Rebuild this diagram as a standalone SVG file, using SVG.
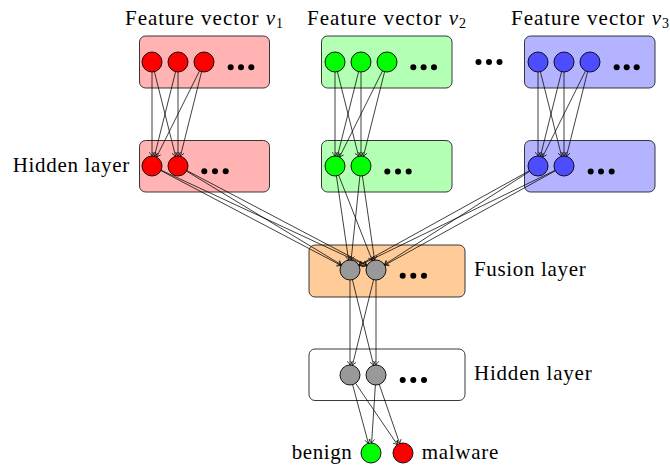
<svg xmlns="http://www.w3.org/2000/svg" width="670" height="465" viewBox="0 0 670 465">
<defs>
<style>
text{font-family:"Liberation Serif","Times New Roman",serif;font-size:21px;fill:#000}
.box{stroke:#222;stroke-width:0.9}
.n{stroke:#000;stroke-width:0.9}
.dot{fill:#000}
.red{fill:#ff0000}.green{fill:#00ff00}.blue{fill:#4d4dff}.gray{fill:#999999}
#edges line{stroke:#000;stroke-width:0.75;fill:none;marker-end:url(#arr)}
</style>
<marker id="arr" viewBox="-5 -4 6 8" markerWidth="6" markerHeight="8" refX="0" refY="0" orient="auto" markerUnits="userSpaceOnUse">
<path d="M-3.8,-2.8 Q-1,-0.6 0,0 Q-1,0.6 -3.8,2.8" fill="none" stroke="#000" stroke-width="0.7"/>
</marker>
</defs>
<rect width="670" height="465" fill="#fff"/>

<!-- titles -->
<text x="125" y="25" textLength="158" lengthAdjust="spacing">Feature vector <tspan font-style="italic">v</tspan><tspan font-size="14" dy="3">1</tspan></text>
<text x="307" y="25" textLength="159" lengthAdjust="spacing">Feature vector <tspan font-style="italic">v</tspan><tspan font-size="14" dy="3">2</tspan></text>
<text x="511" y="25" textLength="158" lengthAdjust="spacing">Feature vector <tspan font-style="italic">v</tspan><tspan font-size="14" dy="3">3</tspan></text>

<!-- input layer v1 -->
<g id="input1">
<rect class="box" x="139.5" y="36" width="130" height="52" rx="6" fill="#ffb3b3"/>
<g id="in1a"><circle class="n red" cx="152" cy="62" r="10"/></g>
<g id="in1b"><circle class="n red" cx="178" cy="62" r="10"/></g>
<g id="in1c"><circle class="n red" cx="204" cy="62" r="10"/></g>
<circle class="dot" cx="230.7" cy="67.3" r="3"/><circle class="dot" cx="241" cy="67.3" r="3"/><circle class="dot" cx="251.3" cy="67.3" r="3"/>
</g>
<!-- input layer v2 -->
<g id="input2">
<rect class="box" x="321.5" y="36" width="130.5" height="52" rx="6" fill="#b3ffb3"/>
<g id="in2a"><circle class="n green" cx="335" cy="62" r="10"/></g>
<g id="in2b"><circle class="n green" cx="361" cy="62" r="10"/></g>
<g id="in2c"><circle class="n green" cx="387" cy="62" r="10"/></g>
<circle class="dot" cx="413.3" cy="67.3" r="3"/><circle class="dot" cx="423.6" cy="67.3" r="3"/><circle class="dot" cx="434" cy="67.3" r="3"/>
</g>
<g id="gap-dots">
<circle class="dot" cx="478.5" cy="62" r="3"/><circle class="dot" cx="489" cy="62" r="3"/><circle class="dot" cx="499.5" cy="62" r="3"/>
</g>
<!-- input layer v3 -->
<g id="input3">
<rect class="box" x="524.5" y="36" width="130.5" height="52" rx="6" fill="#b3b3ff"/>
<g id="in3a"><circle class="n blue" cx="538" cy="62" r="10"/></g>
<g id="in3b"><circle class="n blue" cx="564" cy="62" r="10"/></g>
<g id="in3c"><circle class="n blue" cx="590" cy="62" r="10"/></g>
<circle class="dot" cx="616.7" cy="67.3" r="3"/><circle class="dot" cx="626.7" cy="67.3" r="3"/><circle class="dot" cx="636.7" cy="67.3" r="3"/>
</g>

<!-- hidden layers (per modality) -->
<text x="12.7" y="172" textLength="116.6" lengthAdjust="spacing">Hidden layer</text>
<g id="hidden1">
<rect class="box" x="139.5" y="140.5" width="130" height="51.5" rx="6" fill="#ffb3b3"/>
<g id="h1a"><circle class="n red" cx="152" cy="166" r="10"/></g>
<g id="h1b"><circle class="n red" cx="178" cy="166" r="10"/></g>
<circle class="dot" cx="204.3" cy="171.3" r="3"/><circle class="dot" cx="215" cy="171.3" r="3"/><circle class="dot" cx="225.7" cy="171.3" r="3"/>
</g>
<g id="hidden2">
<rect class="box" x="321.5" y="140.5" width="130.5" height="51.5" rx="6" fill="#b3ffb3"/>
<g id="h2a"><circle class="n green" cx="335" cy="166" r="10"/></g>
<g id="h2b"><circle class="n green" cx="361" cy="166" r="10"/></g>
<circle class="dot" cx="387.3" cy="171.5" r="3"/><circle class="dot" cx="398" cy="171.5" r="3"/><circle class="dot" cx="408.7" cy="171.5" r="3"/>
</g>
<g id="hidden3">
<rect class="box" x="524.5" y="140.5" width="130.5" height="51.5" rx="6" fill="#b3b3ff"/>
<g id="h3a"><circle class="n blue" cx="538" cy="166" r="10"/></g>
<g id="h3b"><circle class="n blue" cx="564" cy="166" r="10"/></g>
<circle class="dot" cx="590.7" cy="171.5" r="3"/><circle class="dot" cx="601" cy="171.5" r="3"/><circle class="dot" cx="611.7" cy="171.5" r="3"/>
</g>

<!-- fusion layer -->
<g id="fusion">
<rect class="box" x="309" y="245" width="156" height="52" rx="6" fill="#ffcc99"/>
<g id="fa"><circle class="n gray" cx="350" cy="270" r="10"/></g>
<g id="fb"><circle class="n gray" cx="376" cy="270" r="10"/></g>
<circle class="dot" cx="402.7" cy="275.7" r="3"/><circle class="dot" cx="413.3" cy="275.7" r="3"/><circle class="dot" cx="424" cy="275.7" r="3"/>
</g>
<text x="474" y="276" textLength="111.7" lengthAdjust="spacing">Fusion layer</text>

<!-- final hidden layer -->
<g id="hidden4">
<rect class="box" x="309" y="349" width="156" height="51.5" rx="6" fill="#fff"/>
<g id="ha"><circle class="n gray" cx="350" cy="375" r="10"/></g>
<g id="hb"><circle class="n gray" cx="376" cy="375" r="10"/></g>
<circle class="dot" cx="402.7" cy="380" r="3"/><circle class="dot" cx="413.3" cy="380" r="3"/><circle class="dot" cx="424" cy="380" r="3"/>
</g>
<text x="474" y="380" textLength="117.7" lengthAdjust="spacing">Hidden layer</text>

<!-- outputs -->
<g id="out-benign"><circle class="n green" cx="371" cy="453" r="10"/><text x="291.7" y="459" textLength="60" lengthAdjust="spacing">benign</text></g>
<g id="out-malware"><circle class="n red" cx="403" cy="453" r="10"/><text x="421.7" y="459" textLength="76.6" lengthAdjust="spacing">malware</text></g>

<g id="edges">
<!-- v1 -> hidden1 -->
<line x1="152" y1="72" x2="152" y2="156"/>
<line x1="154.4" y1="71.7" x2="175.6" y2="156.3"/>
<line x1="175.6" y1="71.7" x2="154.4" y2="156.3"/>
<line x1="178" y1="72" x2="178" y2="156"/>
<line x1="199.5" y1="70.9" x2="156.5" y2="157.1"/>
<line x1="201.6" y1="71.7" x2="180.4" y2="156.3"/>
<!-- v2 -> hidden2 -->
<line x1="335" y1="72" x2="335" y2="156"/>
<line x1="337.4" y1="71.7" x2="358.6" y2="156.3"/>
<line x1="358.6" y1="71.7" x2="337.4" y2="156.3"/>
<line x1="361" y1="72" x2="361" y2="156"/>
<line x1="382.5" y1="70.9" x2="339.5" y2="157.1"/>
<line x1="384.6" y1="71.7" x2="363.4" y2="156.3"/>
<!-- v3 -> hidden3 -->
<line x1="538" y1="72" x2="538" y2="156"/>
<line x1="540.4" y1="71.7" x2="561.6" y2="156.3"/>
<line x1="561.6" y1="71.7" x2="540.4" y2="156.3"/>
<line x1="564" y1="72" x2="564" y2="156"/>
<line x1="585.5" y1="70.9" x2="542.5" y2="157.1"/>
<line x1="587.6" y1="71.7" x2="566.4" y2="156.3"/>
<!-- hidden1 -> fusion -->
<line x1="160.9" y1="170.6" x2="341.1" y2="265.4"/>
<line x1="161.1" y1="170.2" x2="366.9" y2="265.8"/>
<line x1="186.6" y1="171.2" x2="341.4" y2="264.8"/>
<line x1="186.9" y1="170.6" x2="367.1" y2="265.4"/>
<!-- hidden2 -> fusion -->
<line x1="336.4" y1="175.9" x2="348.6" y2="260.1"/>
<line x1="338.7" y1="175.3" x2="372.3" y2="260.7"/>
<line x1="359.9" y1="175.9" x2="351.1" y2="260.1"/>
<line x1="362.4" y1="175.9" x2="374.6" y2="260.1"/>
<!-- hidden3 -> fusion -->
<line x1="529.3" y1="170.8" x2="358.7" y2="265.2"/>
<line x1="529.6" y1="171.4" x2="384.4" y2="264.6"/>
<line x1="555" y1="170.4" x2="359" y2="265.6"/>
<line x1="555.3" y1="170.8" x2="384.7" y2="265.2"/>
<!-- fusion -> hidden4 -->
<line x1="350" y1="280" x2="350" y2="365"/>
<line x1="352.4" y1="279.7" x2="373.6" y2="365.3"/>
<line x1="373.6" y1="279.7" x2="352.4" y2="365.3"/>
<line x1="376" y1="280" x2="376" y2="365"/>
<!-- hidden4 -> outputs -->
<line x1="352.6" y1="384.7" x2="368.4" y2="443.3"/>
<line x1="355.6" y1="383.3" x2="397.4" y2="444.7"/>
<line x1="375.4" y1="385" x2="371.6" y2="443"/>
<line x1="379.3" y1="384.5" x2="399.7" y2="443.6"/>
</g>
</svg>
